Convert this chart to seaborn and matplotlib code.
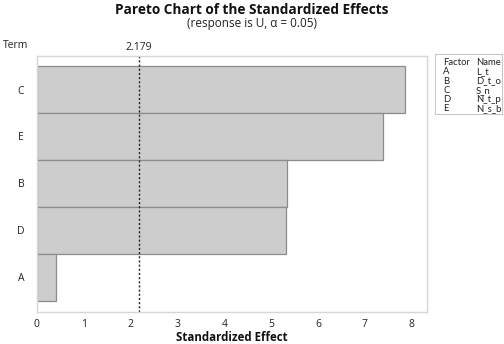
import matplotlib
matplotlib.use("Agg")
import matplotlib.pyplot as plt
import seaborn as sns
import pandas as pd

terms = ["C", "E", "B", "D", "A"]
effects = [7.85, 7.38, 5.34, 5.31, 0.41]
critical = 2.179
factors = ["A", "B", "C", "D", "E"]
names = ["L_t", "D_t_o", "S_n", "N_t_p", "N_s_b"]
xticks = [0, 1, 2, 3, 4, 5, 6, 7, 8]

sns.set_theme(style="white")
plt.rcParams["font.family"] = ["Open Sans", "DejaVu Sans"]

df = pd.DataFrame({"Term": terms, "Effect": effects})

fig = plt.figure(figsize=(5.04, 3.44), dpi=100)
ax = fig.add_axes([0.0728, 0.093, 0.847 - 0.0728, 0.838 - 0.093])
sns.barplot(data=df, x="Effect", y="Term", order=terms, orient="h", width=1.0,
            color="#cdcdcd", saturation=1, edgecolor="#8c8c8c", linewidth=0.9, ax=ax)
ax.set_xlim(0, 8.32)
ax.set_ylim(4.74, -0.72)
ax.set_xticks(xticks)
ax.axvline(critical, color="#222222", linestyle=(0, (1.5, 1.5)), linewidth=1.0)
ax.text(critical, -0.78, f"{critical}", ha="center", va="bottom", fontsize=7.5, color="#222222")

for s in ax.spines.values():
    s.set_color("#d6d6d6")
    s.set_linewidth(1.0)
ax.tick_params(axis="both", which="both", length=3, width=0.8, color="#bbbbbb",
               labelsize=7.5, labelcolor="#222222", pad=2)
ax.tick_params(axis="y", pad=6)
ax.set_ylabel("")
ax.set_xlabel("Standardized Effect", fontsize=8.3, fontweight="bold", color="#111111", labelpad=1)
fig.text(3 / 504, 1 - 45 / 344, "Term", fontsize=7.5, color="#222222", va="center", ha="left")

fig.text(0.5, 1 - 10 / 344, "Pareto Chart of the Standardized Effects", ha="center", va="center",
         fontsize=9.8, fontweight="bold", color="#111111")
fig.text(0.5, 1 - 23 / 344, "(response is U, \u03b1 = 0.05)", ha="center", va="center",
         fontsize=8.5, color="#222222")

lax = fig.add_axes([435 / 504, 1 - 114 / 344, 67 / 504, 60 / 344])
lax.set_xticks([])
lax.set_yticks([])
for s in lax.spines.values():
    s.set_color("#c8c8c8")
    s.set_linewidth(0.8)
lax.set_xlim(0, 1)
lax.set_ylim(0, 1)
row_h = 0.155
lfs = 6.8
lfam = ["Lato", "DejaVu Sans"]
lax.text(0.12, 0.862, "Factor", fontsize=lfs, family=lfam, va="center", ha="left", color="#222222")
lax.text(0.61, 0.862, "Name", fontsize=lfs, family=lfam, va="center", ha="left", color="#222222")
for i, (f, n) in enumerate(zip(factors, names)):
    y = 0.705 - i * row_h
    lax.text(0.12, y, f, fontsize=lfs, family=lfam, va="center", ha="left", color="#222222")
    lax.text(0.61, y, n, fontsize=lfs, family=lfam, va="center", ha="left", color="#222222")

fig.savefig("out.png", dpi=100)
